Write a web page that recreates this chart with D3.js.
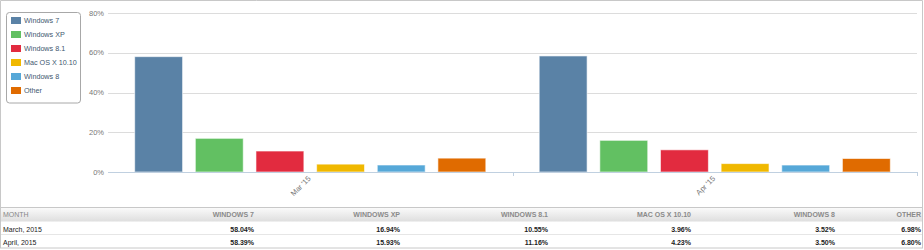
<!DOCTYPE html>
<html>
<head>
<meta charset="utf-8">
<script src="https://cdn.jsdelivr.net/npm/d3@7"></script>
<style>
  body { margin: 0; background: #fff; }
  svg { display: block; font-family: "Liberation Sans", Arial, sans-serif; }
</style>
</head>
<body>
<div id="chart"></div>
<script>
// Donnees
const months = ["Mar '15", "Apr '15"];
const monthNames = ["March, 2015", "April, 2015"];
const systems = ["Windows 7", "Windows XP", "Windows 8.1", "Mac OS X 10.10", "Windows 8", "Other"];
const colors = ["#5a82a6", "#62c062", "#e22b3f", "#f0b800", "#56a8d8", "#e06b00"];
const march = [58.04, 16.94, 10.55, 3.96, 3.52, 6.98];
const april = [58.39, 15.93, 11.16, 4.23, 3.50, 6.80];
const yTicks = [0, 20, 40, 60, 80];

const series = [march, april];

const width = 924, height = 250;
const plot = {left: 108, right: 917, top: 13, bottom: 172};

const svg = d3.select("#chart")
    .append("svg")
    .attr("width", width)
    .attr("height", height);

// cadre exterieur
svg.append("path")
    .attr("d", `M0.5,207 V0.5 H922.5 V207`)
    .attr("fill", "none")
    .attr("stroke", "#c8c8c8");

// echelles
const x0 = d3.scaleBand()
    .domain(months)
    .range([plot.left, plot.right]);

const x1 = d3.scaleBand()
    .domain(systems)
    .range([0, x0.bandwidth()])
    .paddingInner(0.21)
    .paddingOuter(0.44);

const y = d3.scaleLinear()
    .domain([0, 80])
    .range([plot.bottom, plot.top]);

// grille
svg.append("g")
    .selectAll("line")
    .data(yTicks.filter(d => d > 0))
    .join("line")
    .attr("x1", plot.left)
    .attr("x2", plot.right)
    .attr("y1", d => Math.round(y(d)) + 0.5)
    .attr("y2", d => Math.round(y(d)) + 0.5)
    .attr("stroke", "#dcdcdc");

// labels axe Y
svg.append("g")
    .selectAll("text")
    .data(yTicks)
    .join("text")
    .attr("x", 104)
    .attr("y", d => y(d) + 2.5)
    .attr("text-anchor", "end")
    .attr("font-size", "7.5px")
    .attr("fill", "#777")
    .text(d => d + "%");

// barres
const groups = svg.append("g")
    .selectAll("g")
    .data(months)
    .join("g")
    .attr("transform", d => `translate(${x0(d)},0)`);

groups.selectAll("rect")
    .data((m, i) => systems.map((s, j) => ({s: s, v: series[i][j], c: colors[j]})))
    .join("rect")
    .attr("x", d => x1(d.s))
    .attr("y", d => y(d.v))
    .attr("width", x1.bandwidth())
    .attr("height", d => y(0) - y(d.v))
    .attr("fill", d => d.c)
    .attr("stroke", "#fff")
    .attr("stroke-opacity", 0.6)
    .attr("stroke-width", 1);

// axe X
svg.append("line")
    .attr("x1", plot.left)
    .attr("x2", plot.right)
    .attr("y1", plot.bottom + 0.5)
    .attr("y2", plot.bottom + 0.5)
    .attr("stroke", "#c0d0e0");

svg.append("g")
    .selectAll("line")
    .data([x0(months[1]), plot.right])
    .join("line")
    .attr("x1", d => Math.round(d) + 0.5)
    .attr("x2", d => Math.round(d) + 0.5)
    .attr("y1", plot.bottom)
    .attr("y2", plot.bottom + 4)
    .attr("stroke", "#c0d0e0");

svg.append("g")
    .selectAll("text")
    .data(months)
    .join("text")
    .attr("text-anchor", "end")
    .attr("font-size", "7.5px")
    .attr("fill", "#777")
    .attr("transform", d => `translate(${x0(d) + x0.bandwidth() / 2 + 1},${plot.bottom + 7}) rotate(-45)`)
    .text(d => d);

// legende
const legend = svg.append("g");
legend.append("rect")
    .attr("x", 6.5)
    .attr("y", 12.5)
    .attr("width", 74)
    .attr("height", 90.5)
    .attr("rx", 3)
    .attr("fill", "#fff")
    .attr("stroke", "#a8a8a8");

const items = legend.selectAll("g.item")
    .data(systems)
    .join("g")
    .attr("class", "item")
    .attr("transform", (d, i) => `translate(11,${20.5 + i * 14})`);

items.append("rect")
    .attr("x", 0)
    .attr("y", -3.5)
    .attr("width", 10)
    .attr("height", 7)
    .attr("fill", (d, i) => colors[i]);

items.append("text")
    .attr("x", 13)
    .attr("y", 2.5)
    .attr("font-size", "7.2px")
    .attr("fill", "#3e576f")
    .text(d => d);

// tableau
const colRight = [254, 400, 548, 691, 835, 921];
const table = svg.append("g");

const grad = svg.append("defs").append("linearGradient")
    .attr("id", "hdr")
    .attr("x1", 0).attr("x2", 0).attr("y1", 0).attr("y2", 1);
grad.append("stop").attr("offset", "0%").attr("stop-color", "#fafafa");
grad.append("stop").attr("offset", "100%").attr("stop-color", "#dedede");

table.append("rect")
    .attr("x", 0.5).attr("y", 207.5)
    .attr("width", 922).attr("height", 40.5)
    .attr("fill", "#fff")
    .attr("stroke", "#c8c8c8");

table.append("rect")
    .attr("x", 1).attr("y", 208)
    .attr("width", 921).attr("height", 13.5)
    .attr("fill", "url(#hdr)");

table.append("line")
    .attr("x1", 1).attr("x2", 922)
    .attr("y1", 234.5).attr("y2", 234.5)
    .attr("stroke", "#e6e6e6");

table.append("text")
    .attr("x", 3).attr("y", 217)
    .attr("font-size", "7px")
    .attr("fill", "#888")
    .text("MONTH");

table.selectAll("text.hdr")
    .data(systems)
    .join("text")
    .attr("class", "hdr")
    .attr("x", (d, i) => colRight[i])
    .attr("y", 217)
    .attr("text-anchor", "end")
    .attr("font-size", "7px")
    .attr("font-weight", "bold")
    .attr("fill", "#8a8a8a")
    .text(d => d.toUpperCase());

monthNames.forEach((m, r) => {
    const ry = 231.5 + r * 13;
    table.append("text")
        .attr("x", 3).attr("y", ry)
        .attr("font-size", "7px")
        .attr("fill", "#222")
        .text(m);
    table.selectAll(null)
        .data(series[r])
        .join("text")
        .attr("x", (d, i) => colRight[i])
        .attr("y", ry)
        .attr("text-anchor", "end")
        .attr("font-size", "7px")
        .attr("font-weight", "bold")
        .attr("fill", "#222")
        .text(d => d.toFixed(2) + "%");
});
</script>
</body>
</html>
